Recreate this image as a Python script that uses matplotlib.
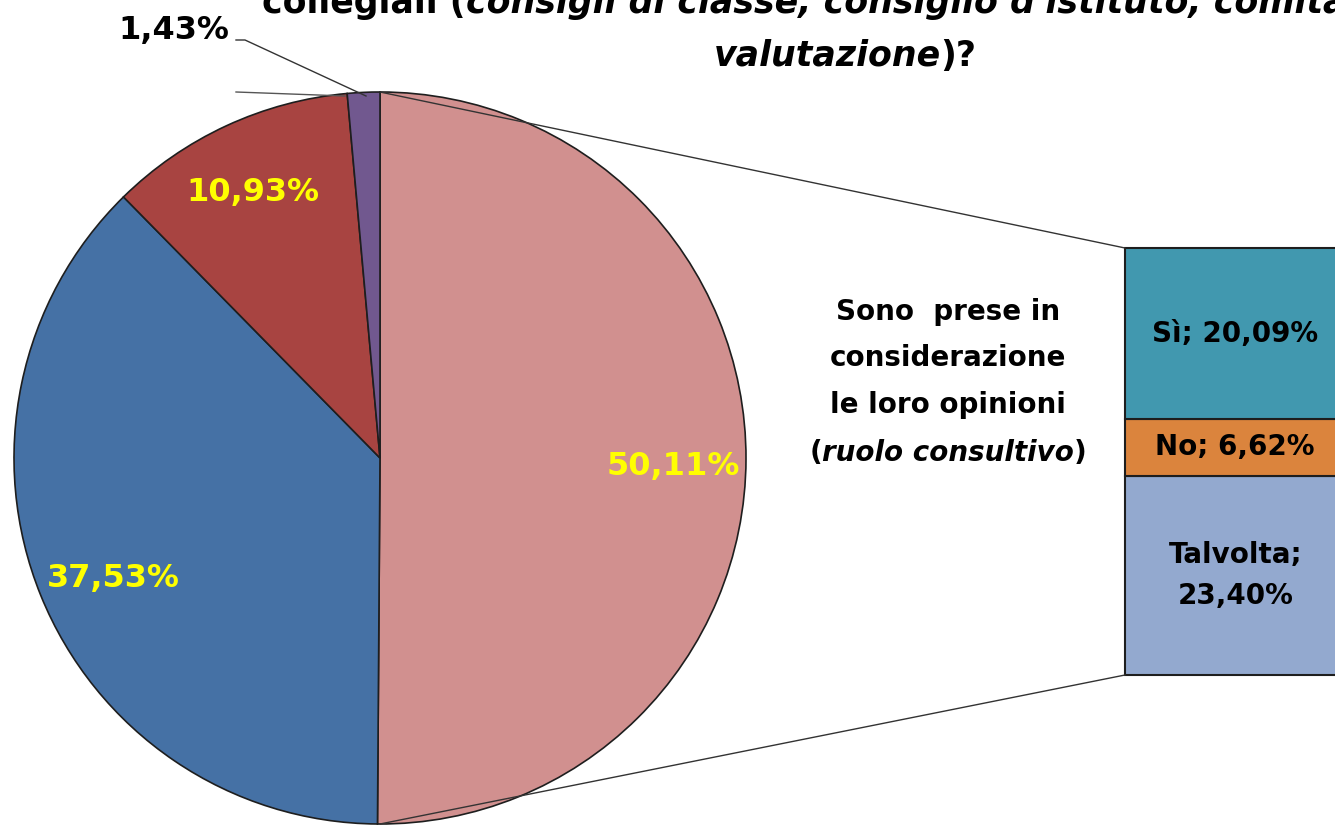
import matplotlib
matplotlib.use("Agg")
import matplotlib.pyplot as plt
from matplotlib.patches import ConnectionPatch

# ---- data ----
pie_labels = ["50,11%", "37,53%", "10,93%", "1,43%"]
pie_values = [50.11, 37.53, 10.93, 1.43]
pie_colors = ["#D1908F", "#4571A5", "#A84441", "#71588F"]

bar_cats = ["Talvolta", "No", "Sì"]          # bottom -> top
bar_values = [23.40, 6.62, 20.09]
bar_texts = ["Talvolta;\n23,40%", "No; 6,62%", "Sì; 20,09%"]
bar_colors = ["#93A9CF", "#DB843D", "#4198AF"]

W, H = 1335, 827
FONT = "DejaVu Sans"
plt.rcParams["font.family"] = [FONT]

fig = plt.figure(figsize=(W / 100, H / 100), dpi=100)
ax = fig.add_axes([0, 0, 1, 1])

def Y(y):
    return H - y

cx, cy, r = 380, Y(458), 366
wedges, _ = ax.pie(pie_values, colors=pie_colors, startangle=90, counterclock=False,
                   center=(cx, cy), radius=r, frame=True,
                   wedgeprops=dict(edgecolor="#1e1e1e", linewidth=1.2))
ax.set_xlim(0, W)
ax.set_ylim(0, H)
ax.set_aspect("equal")
ax.axis("off")

# pie labels
ax.text(673, Y(467), pie_labels[0], color="#FFFF00", fontsize=23, fontweight="bold",
        ha="center", va="center")
ax.text(113, Y(578), pie_labels[1], color="#FFFF00", fontsize=23, fontweight="bold",
        ha="center", va="center")
ax.text(253, Y(193), pie_labels[2], color="#FFFF00", fontsize=23, fontweight="bold",
        ha="center", va="center")
ax.text(229, Y(31), pie_labels[3], color="black", fontsize=23, fontweight="bold",
        ha="right", va="center")
# leader line for small slice
ax.plot([236, 245, 366], [Y(40), Y(40), Y(96)], color="#333333", lw=1.0)
ax.plot([236, 345], [Y(92), Y(96)], color="#555555", lw=1.0)

# bar of pie
bx0, bx1, by_top, by_bot = 1125, 1337, 248, 675
ax2 = fig.add_axes([bx0 / W, (H - by_bot) / H, (bx1 - bx0) / W, (by_bot - by_top) / H])
bottom = 0
for v, c, t in zip(bar_values, bar_colors, bar_texts):
    ax2.bar(0, v, bottom=bottom, width=1.0, color=c, edgecolor="#1e1e1e",
            linewidth=1.5, clip_on=False)
    ax2.text(0.02, bottom + v / 2, t, ha="center", va="center", fontsize=20,
             fontweight="bold", color="black", linespacing=1.6)
    bottom += v
ax2.set_xlim(-0.5, 0.5)
ax2.set_ylim(0, sum(bar_values))
ax2.axis("off")

# connector lines
for yA, yB in [(cy + r, 1), (cy - r, 0)]:
    con = ConnectionPatch(xyA=(cx, yA), coordsA=ax.transData, xyB=(0, yB),
                          coordsB=ax2.transAxes, color="#333333", lw=1.0)
    fig.add_artist(con)

# middle text
mid_x = 948
for txt, yy in [("Sono  prese in", 312), ("considerazione", 358), ("le loro opinioni", 405)]:
    ax.text(mid_x, Y(yy), txt, ha="center", va="center", fontsize=20, fontweight="bold")

fig.canvas.draw()
renderer = fig.canvas.get_renderer()

def mixed_line(parts, xc, yc, fs, align="center", xleft=None):
    arts = []
    for s, style in parts:
        t = ax.text(0, yc, s, fontsize=fs, fontweight="bold", fontstyle=style,
                    va="baseline", ha="left")
        arts.append(t)
    widths = []
    for t in arts:
        bb = t.get_window_extent(renderer=renderer)
        widths.append(bb.width)
    total = sum(widths)
    x = (xc - total / 2) if align == "center" else xleft
    for t, w in zip(arts, widths):
        t.set_x(x)
        x += w
    return arts

mixed_line([("(", "normal"), ("ruolo consultivo", "italic"), (")", "normal")],
           mid_x, Y(461), 20)

# title (partially cut off at top in the original)
mixed_line([("collegiali (", "normal"),
            ("consigli di classe, consiglio d'istituto, comitato di", "italic")],
           None, Y(13), 25, align="left", xleft=262)
mixed_line([("valutazione", "italic"), (")?", "normal")], 845, Y(66), 25)

fig.savefig("out.png", dpi=100)
